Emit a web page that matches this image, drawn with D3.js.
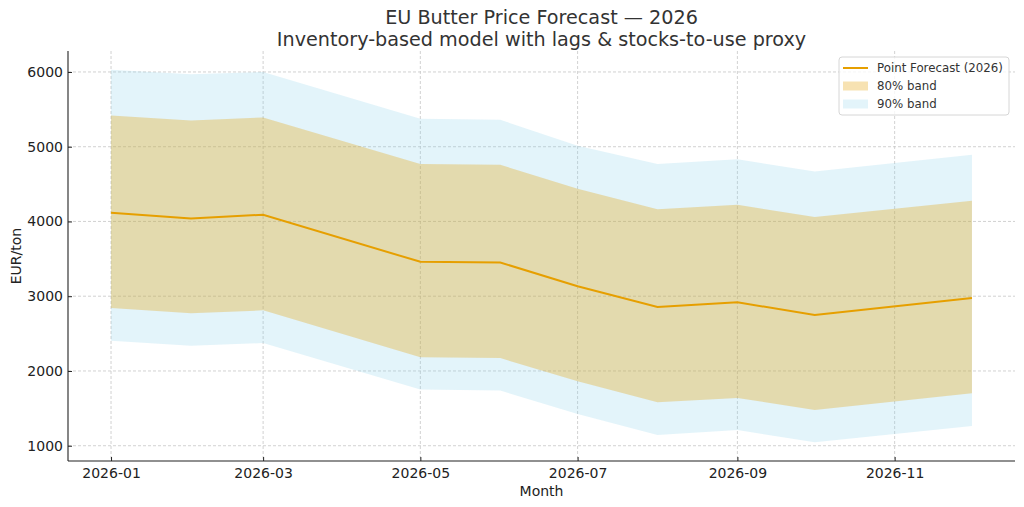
<!DOCTYPE html>
<html>
<head>
<meta charset="utf-8">
<script src="https://cdn.jsdelivr.net/npm/d3@7"></script>
<style>
  body { margin: 0; background: #fff; }
  svg { font-family: "DejaVu Sans", sans-serif; }
</style>
</head>
<body>
<script>
// forecast months (April and November have no point in the source)
const months = ["2026-01", "2026-02", "2026-03", "2026-05", "2026-06", "2026-07", "2026-08", "2026-09", "2026-10", "2026-12"]
const pointForecast = [4117, 4041, 4090, 3460, 3451, 3133, 2856, 2919, 2749, 2977]
const lo80 = [2843, 2771, 2811, 2185, 2172, 1863, 1581, 1640, 1479, 1702]
const hi80 = [5419, 5352, 5392, 4770, 4757, 4439, 4162, 4224, 4059, 4278]
const lo90 = [2404, 2337, 2373, 1751, 1738, 1425, 1143, 1210, 1045, 1264]
const hi90 = [6031, 5969, 6000, 5374, 5360, 5012, 4770, 4833, 4667, 4891]
const yTicks = [1000, 2000, 3000, 4000, 5000, 6000]
const xTickMonths = ["2026-01", "2026-03", "2026-05", "2026-07", "2026-09", "2026-11"]

const W = 1024, H = 507
const m = { left: 68, right: 1015, top: 51, bottom: 461 }
const parse = d3.timeParse("%Y-%m")
const fmt = d3.timeFormat("%Y-%m")

const rows = months.map((mo, i) => ({
  date: parse(mo), y: pointForecast[i], l80: lo80[i], h80: hi80[i], l90: lo90[i], h90: hi90[i]
}))

// matplotlib-style 5% margins
const xExt = d3.extent(rows, d => d.date)
const xPad = (xExt[1] - xExt[0]) * 0.05
const x = d3.scaleTime().domain([new Date(+xExt[0] - xPad), new Date(+xExt[1] + xPad)]).range([m.left, m.right])
const yMin = d3.min(lo90), yMax = d3.max(hi90)
const yPad = (yMax - yMin) * 0.05
const y = d3.scaleLinear().domain([yMin - yPad, yMax + yPad]).range([m.bottom, m.top])

const svg = d3.select("body").append("svg").attr("width", W).attr("height", H)

// grid
const grid = svg.append("g").attr("stroke", "#b0b0b0").attr("stroke-width", 0.8).attr("stroke-dasharray", "3,2").attr("opacity", 0.7)
grid.selectAll(".gy").data(yTicks).enter().append("line")
  .attr("x1", m.left).attr("x2", m.right).attr("y1", d => y(d)).attr("y2", d => y(d))
grid.selectAll(".gx").data(xTickMonths).enter().append("line")
  .attr("x1", d => x(parse(d))).attr("x2", d => x(parse(d))).attr("y1", m.top).attr("y2", m.bottom)

// bands
svg.append("path").datum(rows)
  .attr("fill", "#87CEEB").attr("fill-opacity", 0.23)
  .attr("d", d3.area().x(d => x(d.date)).y0(d => y(d.l90)).y1(d => y(d.h90)))
svg.append("path").datum(rows)
  .attr("fill", "#E69F00").attr("fill-opacity", 0.3)
  .attr("d", d3.area().x(d => x(d.date)).y0(d => y(d.l80)).y1(d => y(d.h80)))

// point forecast
svg.append("path").datum(rows)
  .attr("fill", "none").attr("stroke", "#E69F00").attr("stroke-width", 2)
  .attr("d", d3.line().x(d => x(d.date)).y(d => y(d.y)))

// axes (ticks pointing inward)
const xAxis = svg.append("g").attr("transform", `translate(0,${m.bottom})`)
  .call(d3.axisBottom(x).tickValues(xTickMonths.map(parse)).tickFormat(fmt).tickSizeInner(-4).tickSizeOuter(0).tickPadding(7))
const yAxis = svg.append("g").attr("transform", `translate(${m.left},0)`)
  .call(d3.axisLeft(y).tickValues(yTicks).tickFormat(d3.format("d")).tickSizeInner(-4).tickSizeOuter(0).tickPadding(5))
;[xAxis, yAxis].forEach(a => {
  a.select(".domain").attr("stroke", "#222").attr("stroke-width", 1.1)
  a.selectAll(".tick line").attr("stroke", "#222")
  a.selectAll("text").attr("font-family", "DejaVu Sans").attr("font-size", 14).attr("fill", "#222")
})
yAxis.select(".domain").attr("d", `M0,${m.top}V${m.bottom}`)
xAxis.select(".domain").attr("d", `M${m.left},0H${m.right}`)

// axis labels
svg.append("text").attr("x", (m.left + m.right) / 2).attr("y", 496).attr("text-anchor", "middle")
  .attr("font-size", 14).attr("fill", "#222").text("Month")
svg.append("text").attr("transform", `translate(21,${(m.top + m.bottom) / 2}) rotate(-90)`).attr("text-anchor", "middle")
  .attr("font-size", 14).attr("fill", "#222").text("EUR/ton")

// titles
svg.append("text").attr("x", (m.left + m.right) / 2).attr("y", 24).attr("text-anchor", "middle")
  .attr("font-size", 19.2).attr("fill", "#333").text("EU Butter Price Forecast — 2026")
svg.append("text").attr("x", (m.left + m.right) / 2).attr("y", 45.5).attr("text-anchor", "middle")
  .attr("font-size", 19.2).attr("fill", "#333").text("Inventory-based model with lags & stocks-to-use proxy")

// legend
const lg = svg.append("g").attr("transform", "translate(839,57)")
lg.append("rect").attr("width", 170).attr("height", 58).attr("rx", 3)
  .attr("fill", "#fff").attr("fill-opacity", 0.8).attr("stroke", "#d6d6d6")
const items = [
  { label: "Point Forecast (2026)", kind: "line" },
  { label: "80% band", kind: "band", color: "#E69F00", op: 0.3 },
  { label: "90% band", kind: "band", color: "#87CEEB", op: 0.23 }
]
items.forEach((it, i) => {
  const cy = 11 + i * 18
  if (it.kind === "line")
    lg.append("line").attr("x1", 4).attr("x2", 29).attr("y1", cy).attr("y2", cy).attr("stroke", "#E69F00").attr("stroke-width", 2)
  else
    lg.append("rect").attr("x", 4).attr("y", cy - 4.5).attr("width", 25).attr("height", 9).attr("fill", it.color).attr("fill-opacity", it.op)
  lg.append("text").attr("x", 38).attr("y", cy + 4).attr("font-size", 11.8).attr("fill", "#333").text(it.label)
})
</script>
</body>
</html>
